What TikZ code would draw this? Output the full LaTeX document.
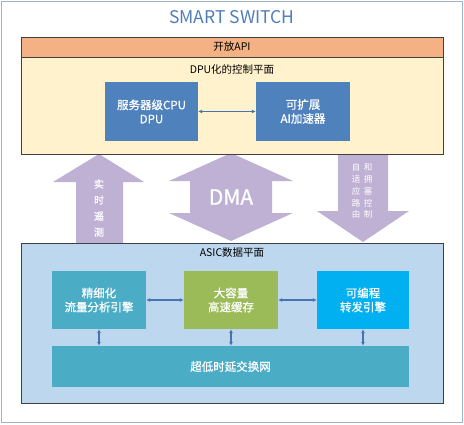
\documentclass[tikz,border=0pt]{standalone}
\usepackage{fontspec}
\setmainfont{Noto Sans CJK SC}
\newfontfamily\semib[FakeBold=0.8]{Noto Sans CJK SC}
\usetikzlibrary{arrows.meta,shadows}
\definecolor{frameC}{HTML}{9FB3C8}
\definecolor{titleC}{HTML}{4F7DB8}
\definecolor{orangeC}{HTML}{F4B183}
\definecolor{yellowC}{HTML}{FFF2CC}
\definecolor{blueC}{HTML}{4F81BD}
\definecolor{asicC}{HTML}{BDD7EE}
\definecolor{tealC}{HTML}{4BACC6}
\definecolor{greenC}{HTML}{9BBB59}
\definecolor{cyanC}{HTML}{00B0F0}
\definecolor{purpC}{HTML}{BEB1D3}
\definecolor{lineC}{HTML}{4A72B0}
\definecolor{edgeC}{HTML}{404040}
\tikzset{
  x=1pt,y=-1pt,
  layer/.style={draw=edgeC,line width=0.7pt,minimum width=422pt,inner sep=0pt,
    drop shadow={shadow xshift=0.8pt,shadow yshift=-1.2pt,opacity=0.35}},
  block/.style={minimum width=94pt,minimum height=58pt,inner sep=0pt,text=white,align=center,font=\semib\fontsize{11.5}{14}\selectfont},
  link/.style={draw=lineC,line width=1.3pt,{Latex[length=4pt,width=4pt]}-{Latex[length=4pt,width=4pt]}},
  fat/.style={fill=purpC,draw=none},
  lbl/.style={font=\fontsize{10.5}{12}\selectfont,inner sep=0pt}
}
\begin{document}
\begin{tikzpicture}
\useasboundingbox (0,0) rectangle (464,424);
\draw[frameC,line width=1.5pt] (1.5,1.5) rectangle (462.5,422.5);
\node[text=titleC,font=\fontsize{17.5}{20}\selectfont,inner sep=0pt] (title) at (232,17) {SMART SWITCH};
% purple arrows
\fill[fat] (99,154) -- (144,182) -- (123,182) -- (123,243) -- (76,243) -- (76,182) -- (53,182) -- cycle;
\fill[fat] (231,153) -- (293,181) -- (272,181) -- (272,213) -- (293,213) -- (231,241) -- (169,213) -- (190,213) -- (190,181) -- (169,181) -- cycle;
\fill[fat] (338,154) -- (388,154) -- (388,211) -- (409,211) -- (363,242) -- (317,211) -- (338,211) -- cycle;
\node[text=white,font=\semib\fontsize{10}{16}\selectfont,align=center,inner sep=0pt] (tele) at (99,208) {实\\时\\遥\\测};
\node[text=white,font=\semib\fontsize{21}{24}\selectfont,inner sep=0pt] (dma) at (231,197) {DMA};
\node[text=white,font=\fontsize{8.5}{11.8}\selectfont,align=center,inner sep=0pt] (route1) at (356,191) {自\\适\\应\\路\\由};
\node[text=white,font=\fontsize{8.5}{11.8}\selectfont,align=center,inner sep=0pt] (route2) at (368,191) {和\\拥\\塞\\控\\制};
% control plane
\node[layer,fill=orangeC,minimum height=20pt] (api) at (232,47) {};
\node[lbl] (apit) at (232,47) {开放API};
\node[layer,fill=yellowC,minimum height=97pt] (ctrl) at (232,105.5) {};
\node[lbl] (ctrlt) at (232,69) {DPU化的控制平面};
\node[block,fill=blueC,minimum width=93pt,minimum height=59pt] (cpu) at (151.5,111.5) {服务器级CPU\\DPU};
\node[block,fill=blueC,minimum height=59pt] (ai) at (303,111.5) {可扩展\\AI加速器};
\draw[link] (cpu) -- (ai);
% data plane
\node[layer,fill=asicC,minimum height=160pt] (asic) at (232,323) {};
\node[lbl] (asict) at (232,253) {ASIC数据平面};
\node[block,fill=tealC] (flow) at (99,300) {精细化\\流量分析引擎};
\node[block,fill=greenC] (cache) at (231,300) {大容量\\高速缓存};
\node[block,fill=cyanC,minimum width=92pt] (fwd) at (363,300) {可编程\\转发引擎};
\node[block,fill=tealC,minimum width=357pt,minimum height=41pt] (fab) at (230.5,366.5) {超低时延交换网};
\draw[link] (flow) -- (cache);
\draw[link] (cache) -- (fwd);
\draw[link] (flow.south) -- (flow.south |- fab.north);
\draw[link] (cache.south) -- (cache.south |- fab.north);
\draw[link] (fwd.south) -- (fwd.south |- fab.north);
\end{tikzpicture}
\end{document}
